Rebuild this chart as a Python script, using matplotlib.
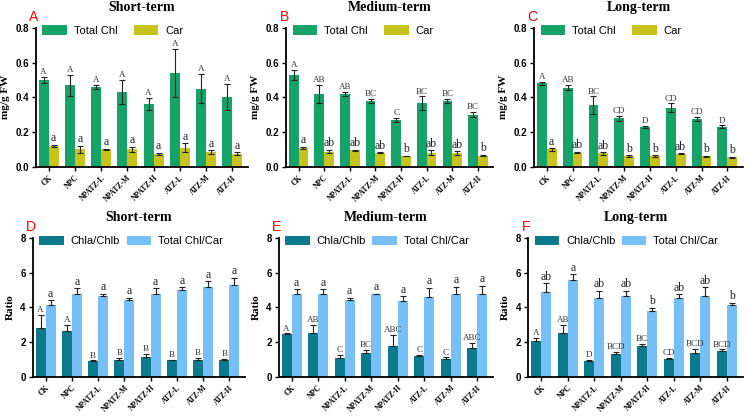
import matplotlib
matplotlib.use('Agg')
import matplotlib.pyplot as plt
import numpy as np

groups = ['CK', 'NPC', 'NPATZ-L', 'NPATZ-M', 'NPATZ-H', 'ATZ-L', 'ATZ-M', 'ATZ-H']
terms = ['Short-term', 'Medium-term', 'Long-term']

# pigment content (mg/g FW)
chl_mean = [
    [0.50, 0.47, 0.46, 0.43, 0.36, 0.54, 0.45, 0.40],
    [0.53, 0.42, 0.42, 0.38, 0.27, 0.365, 0.38, 0.30],
    [0.48, 0.455, 0.355, 0.28, 0.23, 0.34, 0.275, 0.23],
]
chl_err = [
    [0.02, 0.06, 0.01, 0.07, 0.035, 0.14, 0.085, 0.075],
    [0.03, 0.05, 0.01, 0.01, 0.01, 0.04, 0.01, 0.015],
    [0.01, 0.015, 0.05, 0.015, 0.005, 0.025, 0.01, 0.008],
]
chl_sig = [
    ['A'] * 8,
    ['A', 'AB', 'AB', 'BC', 'C', 'BC', 'BC', 'BC'],
    ['A', 'AB', 'BC', 'CD', 'D', 'CD', 'CD', 'D'],
]
car_mean = [
    [0.12, 0.10, 0.10, 0.10, 0.075, 0.11, 0.085, 0.075],
    [0.11, 0.088, 0.095, 0.08, 0.062, 0.082, 0.08, 0.065],
    [0.10, 0.082, 0.077, 0.062, 0.062, 0.075, 0.06, 0.055],
]
car_err = [
    [0.008, 0.02, 0.005, 0.015, 0.005, 0.025, 0.01, 0.008],
    [0.005, 0.01, 0.003, 0.003, 0.002, 0.012, 0.01, 0.003],
    [0.008, 0.005, 0.007, 0.005, 0.005, 0.003, 0.005, 0.002],
]
car_sig = [
    ['a'] * 8,
    ['a', 'ab', 'ab', 'ab', 'b', 'ab', 'ab', 'b'],
    ['a', 'ab', 'ab', 'b', 'b', 'ab', 'b', 'b'],
]

# ratios
ab_mean = [
    [2.8, 2.65, 0.9, 0.95, 1.15, 0.95, 1.0, 0.95],
    [2.45, 2.55, 1.1, 1.38, 1.78, 1.18, 1.02, 1.65],
    [2.05, 2.55, 0.9, 1.3, 1.78, 1.05, 1.38, 1.48],
]
ab_err = [
    [0.75, 0.35, 0.05, 0.15, 0.15, 0.03, 0.1, 0.1],
    [0.05, 0.45, 0.15, 0.15, 0.65, 0.1, 0.1, 0.3],
    [0.2, 0.45, 0.1, 0.15, 0.1, 0.05, 0.25, 0.1],
]
ab_sig = [
    ['A', 'A', 'B', 'B', 'B', 'B', 'B', 'B'],
    ['A', 'AB', 'C', 'BC', 'ABC', 'C', 'C', 'ABC'],
    ['A', 'AB', 'D', 'BCD', 'BC', 'CD', 'BCD', 'BCD'],
]
tc_mean = [
    [4.15, 4.75, 4.65, 4.4, 4.8, 5.0, 5.2, 5.3],
    [4.75, 4.75, 4.45, 4.75, 4.35, 4.62, 4.75, 4.8],
    [4.9, 5.6, 4.55, 4.65, 3.78, 4.55, 4.65, 4.12],
]
tc_err = [
    [0.25, 0.35, 0.15, 0.15, 0.3, 0.15, 0.3, 0.4],
    [0.3, 0.3, 0.1, 0.05, 0.3, 0.5, 0.45, 0.45],
    [0.5, 0.3, 0.4, 0.3, 0.2, 0.2, 0.5, 0.15],
]
tc_sig = [
    ['a'] * 8,
    ['a'] * 8,
    ['ab', 'a', 'ab', 'ab', 'b', 'ab', 'ab', 'b'],
]

serif = 'Liberation Serif'
sans = 'Liberation Sans'

fig = plt.figure(figsize=(7.45, 4.16), dpi=100)

top_pos = [[0.048, 0.599, 0.285, 0.334],
           [0.384, 0.599, 0.278, 0.334],
           [0.717, 0.599, 0.280, 0.334]]
bot_pos = [[0.044, 0.094, 0.285, 0.334],
           [0.374, 0.094, 0.288, 0.334],
           [0.709, 0.094, 0.288, 0.334]]

x = np.arange(len(groups))
w = 0.38


def draw_panel(pos, title, letter, m1, e1, s1, m2, e2, s2, c1, c2, labels,
               ymax, yticks, ylabel, fmt, upper_only, small_off, colsp):
    ax = fig.add_axes(pos)
    if upper_only:
        err1 = [np.zeros(len(e1)), e1]
        err2 = [np.zeros(len(e2)), e2]
    else:
        err1, err2 = e1, e2
    ekw = dict(elinewidth=0.8, capthick=0.8, ecolor='#222222')
    ax.bar(x - w / 2, m1, w, color=c1, yerr=err1, capsize=2, error_kw=ekw, label=labels[0])
    ax.bar(x + w / 2, m2, w, color=c2, yerr=err2, capsize=2, error_kw=ekw, label=labels[1])
    for i in range(len(groups)):
        ax.text(x[i] - w / 2, m1[i] + e1[i] + small_off, s1[i], ha='center', va='bottom',
                fontsize=6.5, family=serif, color='#333333')
        ax.text(x[i] + w / 2, m2[i] + e2[i] + small_off * 0.6, s2[i], ha='center', va='bottom',
                fontsize=8.5, family=serif, color='#222222')
    ax.set_xlim(-0.49, 7.6)
    ax.set_ylim(0, ymax)
    ax.set_yticks(yticks)
    ax.set_yticklabels([fmt.format(v) for v in yticks], fontsize=7, family=sans, fontweight='bold')
    ax.set_xticks(x)
    ax.set_xticklabels(groups, rotation=45, ha='right', rotation_mode='anchor',
                       fontsize=5.5, family=serif, fontweight='bold')
    ax.tick_params(axis='both', length=3, width=1, pad=2)
    for s in ['top', 'right']:
        ax.spines[s].set_visible(False)
    for s in ['left', 'bottom']:
        ax.spines[s].set_linewidth(1.3)
    ax.set_ylabel(ylabel, fontsize=8, family=serif, fontweight='bold', labelpad=4)
    ax.set_title(title, fontsize=10, family=serif, fontweight='bold', pad=12)
    ax.legend(loc='center left', bbox_to_anchor=(0.0, 0.98), ncol=2, frameon=False,
              prop={'family': sans, 'size': 8}, handlelength=2.2, handleheight=0.9,
              columnspacing=colsp, handletextpad=0.6, borderaxespad=0.2)
    ax.text(-0.01, 1.025, letter, transform=ax.transAxes, color='red', fontsize=10,
            family=sans, ha='center', va='bottom')
    return ax


for k in range(3):
    draw_panel(top_pos[k], terms[k], 'ABC'[k], chl_mean[k], chl_err[k], chl_sig[k],
               car_mean[k], car_err[k], car_sig[k], '#15a36a', '#c7c31a',
               ['Total Chl', 'Car'], 0.8, [0.0, 0.2, 0.4, 0.6, 0.8], 'mg/g FW',
               '{:.1f}', False, 0.005, 1.5)
    draw_panel(bot_pos[k], terms[k], 'DEF'[k], ab_mean[k], ab_err[k], ab_sig[k],
               tc_mean[k], tc_err[k], tc_sig[k], '#0b7a8c', '#76c0f7',
               ['Chla/Chlb', 'Total Chl/Car'], 8, [0, 2, 4, 6, 8], 'Ratio',
               '{:.0f}', True, 0.05, 0.6)

fig.savefig('out.png', dpi=100)
